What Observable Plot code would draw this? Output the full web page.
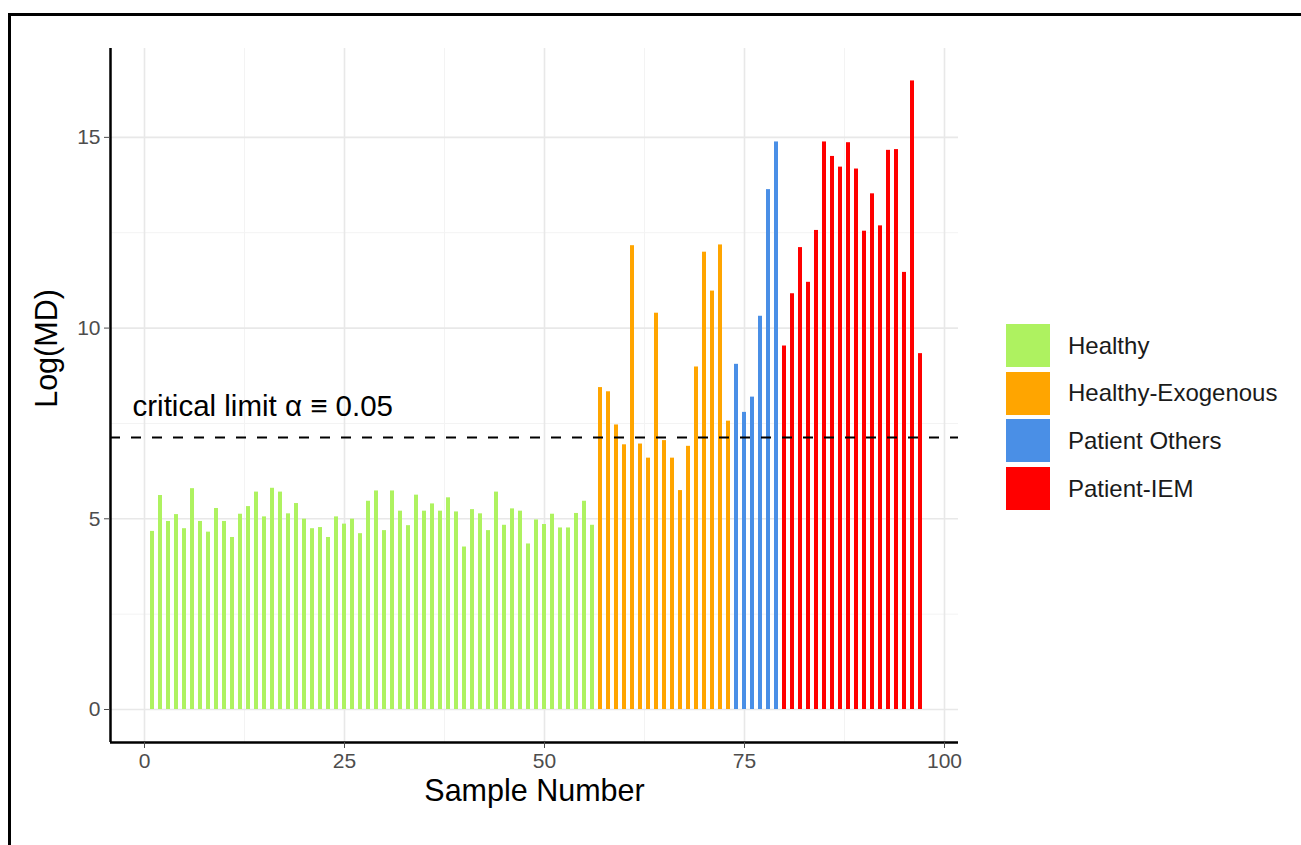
<!DOCTYPE html>
<html>
<head>
<meta charset="utf-8">
<script src="https://cdn.jsdelivr.net/npm/d3@7"></script>
<script src="https://cdn.jsdelivr.net/npm/@observablehq/plot@0.6"></script>
<style>
  body { margin: 0; background: #fff; font-family: "Liberation Sans", Arial, sans-serif; }
  #wrap { position: relative; width: 1301px; height: 845px; overflow: hidden; background: #fff; }
  #chart { position: absolute; left: 0; top: 0; }
  .bt { position: absolute; left: 8px; top: 13px; width: 1293px; height: 3px; background: #000; }
  .bl { position: absolute; left: 8px; top: 13px; width: 3px; height: 832px; background: #000; }
  #legend { position: absolute; left: 1006px; top: 324px; }
  .row { display: flex; align-items: center; height: 43px; margin-bottom: 4.7px; }
  .sw { width: 44px; height: 43px; }
  .lab { margin-left: 18px; font-size: 24px; color: #1a1a1a; white-space: nowrap; }
</style>
</head>
<body>
<div id="wrap">
  <div class="bt"></div>
  <div class="bl"></div>
  <div id="chart"></div>
  <div id="legend"></div>
</div>
<script>
// ---- data ----
const groups = ["Healthy", "Healthy-Exogenous", "Patient Others", "Patient-IEM"];
const groupColors = ["#aef260", "#ffa500", "#4a8fe6", "#ff0000"];

const healthy = [4.67, 5.61, 4.93, 5.11, 4.74, 5.79, 4.93, 4.65, 5.27, 4.93,
  4.51, 5.12, 5.32, 5.70, 5.05, 5.80, 5.70, 5.13, 5.40, 4.99,
  4.74, 4.77, 4.51, 5.05, 4.86, 4.99, 4.61, 5.46, 5.73, 4.69,
  5.73, 5.20, 4.82, 5.62, 5.20, 5.39, 5.20, 5.55, 5.18, 4.26,
  5.24, 5.13, 4.69, 5.70, 4.83, 5.26, 5.20, 4.34, 4.97, 4.85,
  5.12, 4.76, 4.76, 5.14, 5.46, 4.83];
const healthyExogenous = [8.44, 8.33, 7.46, 6.94, 12.16, 6.96, 6.59, 10.39, 7.05,
  6.59, 5.74, 6.90, 8.98, 11.99, 10.97, 12.18, 7.56];
const patientOthers = [9.05, 7.79, 8.19, 10.31, 13.63, 14.88];
const patientIEM = [9.53, 10.90, 12.11, 11.20, 12.56, 14.88, 14.50, 14.22, 14.86,
  14.17, 12.54, 13.52, 12.68, 14.66, 14.68, 11.46, 16.48, 9.33];

const xTicks = [0, 25, 50, 75, 100];
const xMinor = [12.5, 37.5, 62.5, 87.5];
const yTicks = [0, 5, 10, 15];
const yMinor = [2.5, 7.5, 12.5];
const criticalLimit = 7.13;
const annotation = "critical limit \u03B1 \u2261 0.05";

// ---- build table ----
const seriesList = [healthy, healthyExogenous, patientOthers, patientIEM];
const data = [];
seriesList.forEach((vals, gi) => {
  vals.forEach(v => data.push({ sample: data.length + 1, value: v, group: groups[gi] }));
});

const half = 0.25;
const xDomain = [-4.25, 101.75];
const yDomain = [-0.865, 17.33];

const chart = Plot.plot({
  width: 990,
  height: 845,
  marginLeft: 110,
  marginRight: 32,
  marginTop: 48,
  marginBottom: 103,
  style: { fontFamily: '"Liberation Sans", Arial, sans-serif', background: "transparent" },
  x: { domain: xDomain },
  y: { domain: yDomain },
  color: { domain: groups, range: groupColors },
  marks: [
    Plot.ruleX(xMinor, { stroke: "#f3f3f3", strokeWidth: 1 }),
    Plot.ruleY(yMinor, { stroke: "#f3f3f3", strokeWidth: 1 }),
    Plot.ruleX(xTicks, { stroke: "#e8e8e8", strokeWidth: 1.6 }),
    Plot.ruleY(yTicks, { stroke: "#e8e8e8", strokeWidth: 1.6 }),
    Plot.rectY(data, {
      x1: d => d.sample - half,
      x2: d => d.sample + half,
      y: "value",
      fill: "group"
    }),
    Plot.ruleY([criticalLimit], { stroke: "#000", strokeWidth: 2, strokeDasharray: "10,11" }),
    Plot.text([annotation], {
      text: d => d, y: () => criticalLimit, frameAnchor: "left", textAnchor: "start",
      dx: 22, dy: -31, fontSize: 29.5, fill: "#000"
    }),
    Plot.ruleX([xDomain[0]], { stroke: "#000", strokeWidth: 2.5 }),
    Plot.ruleY([yDomain[0]], { stroke: "#000", strokeWidth: 2.5 }),
    Plot.axisX({ ticks: xTicks, tickSize: 6, tickPadding: 5, fontSize: 21, color: "#4d4d4d", label: null }),
    Plot.axisY({ ticks: yTicks, tickSize: 6, tickPadding: 4, fontSize: 21, color: "#4d4d4d", label: null }),
    Plot.text(["Sample Number"], { text: d => d, frameAnchor: "bottom", dy: 58, fontSize: 30.5, fill: "#000" }),
    Plot.text(["Log(MD)"], { text: d => d, frameAnchor: "left", textAnchor: "middle", dx: -63, dy: -47, rotate: -90, fontSize: 30.5, fill: "#000" })
  ]
});
document.getElementById("chart").appendChild(chart);

// ---- legend ----
const legend = document.getElementById("legend");
groups.forEach((g, i) => {
  const row = document.createElement("div");
  row.className = "row";
  const sw = document.createElement("div");
  sw.className = "sw";
  sw.style.background = groupColors[i];
  const lab = document.createElement("div");
  lab.className = "lab";
  lab.textContent = g;
  row.appendChild(sw);
  row.appendChild(lab);
  legend.appendChild(row);
});
</script>
</body>
</html>
